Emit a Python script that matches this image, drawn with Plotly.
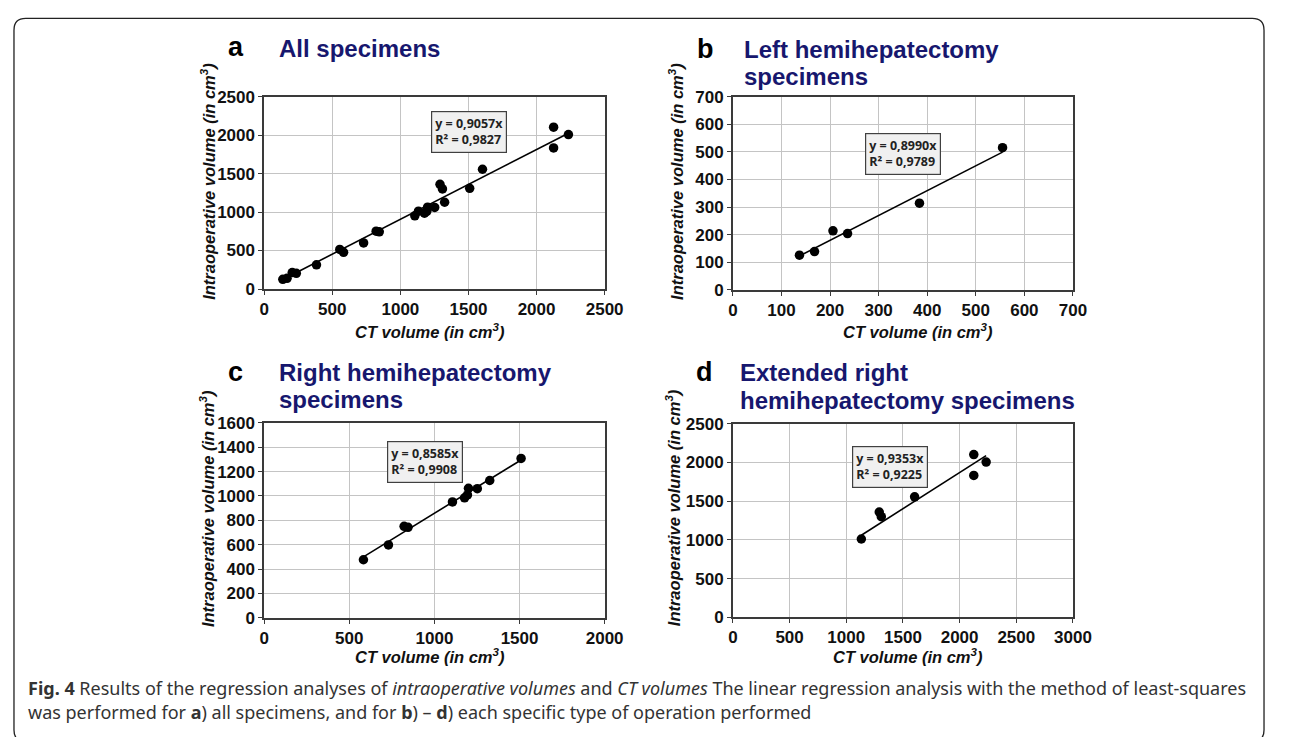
import plotly.graph_objects as go

# screen size and page margin of the browser (body margin 8px)
SW, SH = 1292, 745
M = 8
W, H = SW - 2 * M, SH - 2 * M

# ---- data ----
left_ct = [137, 168, 206, 236, 384, 555]
left_io = [126, 139, 214, 204, 314, 515]

right_ct = [583, 730, 822, 845, 1106, 1177, 1194, 1200, 1252, 1325, 1509]
right_io = [477, 599, 751, 743, 951, 985, 1009, 1063, 1060, 1127, 1308]

ext_ct = [1133, 1291, 1309, 1603, 2125, 2125, 2234]
ext_io = [1011, 1360, 1300, 1556, 2102, 1833, 2006]

all_ct = left_ct + right_ct + ext_ct
all_io = left_io + right_io + ext_io

slopes = [0.9057, 0.8990, 0.8585, 0.9353]
r2s = [0.9827, 0.9789, 0.9908, 0.9225]

letters = ["a", "b", "c", "d"]
titles = [["All specimens"],
          ["Left hemihepatectomy", "specimens"],
          ["Right hemihepatectomy", "specimens"],
          ["Extended right", "hemihepatectomy specimens"]]
x_max = [2500, 700, 2000, 3000]
x_dtick = [500, 100, 500, 500]
y_max = [2500, 700, 1600, 2500]
y_dtick = [500, 100, 200, 500]

series = [(all_ct, all_io), (left_ct, left_io), (right_ct, right_io), (ext_ct, ext_io)]

# ---- layout geometry (screen pixels) ----
plot_px = [(264, 611, 89.7, 287.3), (741.7, 1088.3, 89.7, 288.3),
           (264, 611, 424.7, 625.0), (741.7, 1088.3, 425.7, 624.3)]
letter_pos = [(235, 39), (714, 41), (235, 373), (713, 373)]
title_x = [277, 751, 277, 747]
title_y = [[40], [41, 69], [373, 401], [373, 402]]
eq_pos = [(473, 126), (915, 149), (428, 465), (902, 470)]
ytitle_pos = [(206, 177), (683, 177), (206, 513), (681, 512)]
xtitle_pos = [(433, 330.5), (930, 330.5), (433, 664), (920, 664)]


def px(x):
    return (x - M) / W


def py(y):
    return 1 - (y - M) / H


fig = go.Figure()
annotations = []
shapes = []

navy = "#17176e"
tick_font = dict(family="Liberation Sans, Arial", size=17, color="#111111", weight="bold")

for i in range(4):
    sfx = "" if i == 0 else str(i + 1)
    xa, ya = "x" + sfx, "y" + sfx
    ct, io = series[i]
    fig.add_trace(go.Scatter(x=ct, y=io, mode="markers", xaxis=xa, yaxis=ya,
                             marker=dict(color="#000000", size=9.5), showlegend=False,
                             hoverinfo="skip"))
    x0, x1 = min(ct), max(ct)
    fig.add_trace(go.Scatter(x=[x0, x1], y=[slopes[i] * x0, slopes[i] * x1], mode="lines",
                             xaxis=xa, yaxis=ya, line=dict(color="#000000", width=1.6),
                             showlegend=False, hoverinfo="skip"))
    l, r, t, b = plot_px[i]
    common = dict(showgrid=True, gridcolor="#c4c4c4", gridwidth=1.3, zeroline=False,
                  showline=True, mirror=True, linecolor="#3a3a3a", linewidth=1.6,
                  ticks="outside", ticklen=4, tickcolor="#3a3a3a", tickwidth=1.2,
                  tickfont=tick_font, fixedrange=True)
    fig.update_layout(**{
        "xaxis" + sfx: dict(domain=[px(l), px(r)], range=[0, x_max[i]], dtick=x_dtick[i],
                            anchor=ya, **common),
        "yaxis" + sfx: dict(domain=[py(b), py(t)], range=[0, y_max[i]], dtick=y_dtick[i],
                            anchor=xa, **common),
    })
    lx, ly = letter_pos[i]
    annotations.append(dict(text="<b>%s</b>" % letters[i], x=px(lx), y=py(ly), xref="paper",
                            yref="paper", showarrow=False, xanchor="center", yanchor="middle",
                            font=dict(family="Liberation Sans, Arial", size=27, color="#000000")))
    for line, ty in zip(titles[i], title_y[i]):
        annotations.append(dict(text="<b>%s</b>" % line, x=px(title_x[i]), y=py(ty),
                                xref="paper", yref="paper", showarrow=False, xanchor="left",
                                yanchor="middle",
                                font=dict(family="Liberation Sans, Arial", size=24, color=navy)))
    ex, ey = eq_pos[i]
    eq = "y = %sx<br>R² = %s" % (("%.4f" % slopes[i]).replace(".", ","),
                                 ("%.4f" % r2s[i]).replace(".", ","))
    annotations.append(dict(text="<b>%s</b>" % eq, x=px(ex), y=py(ey), xref="paper", yref="paper",
                            showarrow=False, xanchor="center", yanchor="middle", align="left",
                            bgcolor="#f0f0f0", bordercolor="#404040", borderwidth=1.2, borderpad=3,
                            font=dict(family="Open Sans, Liberation Sans", size=12.5,
                                      color="#222222")))
    yx, yy = ytitle_pos[i]
    annotations.append(dict(text="<b><i>Intraoperative volume (in cm<sup>3</sup>)</i></b>",
                            x=px(yx), y=py(yy), xref="paper", yref="paper", showarrow=False,
                            textangle=-90, xanchor="center", yanchor="middle",
                            font=dict(family="Liberation Sans, Arial", size=16.5, color="#111111")))
    tx, tyy = xtitle_pos[i]
    annotations.append(dict(text="<b><i>CT volume (in cm<sup>3</sup>)</i></b>",
                            x=px(tx), y=py(tyy), xref="paper", yref="paper", showarrow=False,
                            xanchor="center", yanchor="middle",
                            font=dict(family="Liberation Sans, Arial", size=16.5, color="#111111")))

cap_font = dict(family="Noto Sans, Liberation Sans", size=18, color="#333333")
annotations.append(dict(
    text="<b>Fig. 4</b> Results of the regression analyses of <i>intraoperative volumes</i> and "
         "<i>CT volumes</i> The linear regression analysis with the method of least-squares",
    x=px(21), y=py(697), xref="paper", yref="paper", showarrow=False, xanchor="left",
    yanchor="middle", font=cap_font))
annotations.append(dict(
    text="was performed for <b>a</b>) all specimens, and for <b>b</b>) – <b>d</b>) each specific "
         "type of operation performed",
    x=px(21), y=py(722), xref="paper", yref="paper", showarrow=False, xanchor="left",
    yanchor="middle", font=cap_font))

# outer rounded frame; its bottom edge runs past the picture as in the reference
L, T, R, B, rad = 9, 9.5, 1283, 752, 12
path = ("M {a},{b} L {c},{b} Q {R},{b} {R},{d} L {R},{e} Q {R},{B} {c},{B} "
        "L {a},{B} Q {L},{B} {L},{e} L {L},{d} Q {L},{b} {a},{b} Z").format(
    a=px(L + rad), b=py(T), c=px(R - rad), d=py(T + rad), e=py(B - rad),
    R=px(R), B=py(B), L=px(L))
shapes.append(dict(type="path", path=path, xref="paper", yref="paper",
                   line=dict(color="#222222", width=1.3), fillcolor="rgba(0,0,0,0)"))

fig.update_layout(width=W, height=H, margin=dict(l=0, r=0, t=0, b=0),
                  paper_bgcolor="white", plot_bgcolor="white",
                  annotations=annotations, shapes=shapes, showlegend=False)

fig.write_html("out.html", config={"displayModeBar": False})
